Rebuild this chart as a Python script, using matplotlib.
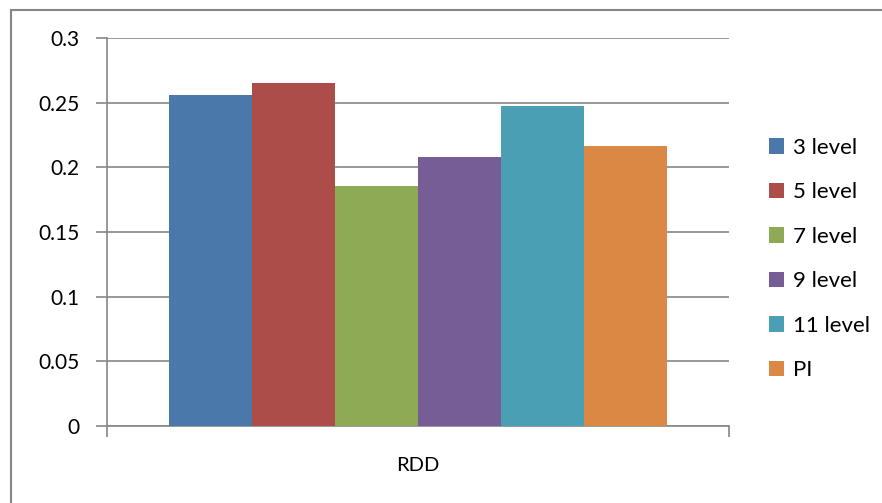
import matplotlib
matplotlib.use('Agg')
import matplotlib.pyplot as plt
from matplotlib.patches import Rectangle
from matplotlib.ticker import FuncFormatter

plt.rcParams['font.family'] = ['Lato', 'DejaVu Sans']

category = 'RDD'
series = ['3 level', '5 level', '7 level', '9 level', '11 level', 'PI']
values = [0.256, 0.265, 0.1855, 0.208, 0.2475, 0.2165]
colors = ['#4a78ab', '#ad4d4a', '#8eaa55', '#775d95', '#4a9fb4', '#dc8845']
yticks = [0, 0.05, 0.1, 0.15, 0.2, 0.25, 0.3]

grey = '#868686'

fig = plt.figure(figsize=(8.82, 5.03), dpi=100)
# outer chart frame
fig.patches.append(Rectangle((11/882, -0.1), 1.2, (503-10)/503 + 0.1,
                             transform=fig.transFigure, fill=False,
                             edgecolor=grey, linewidth=1.5))

ax = fig.add_axes([107/882, 77/503, 622/882, 388/503])

n = len(series)
width = 1 / (n + 1.5)
for i, (name, v, c) in enumerate(zip(series, values, colors)):
    x = -0.5 + 0.75 * width + (i + 0.5) * width
    ax.bar(x, v, width=width, color=c, label=name, zorder=3)

ax.set_xlim(-0.5, 0.5)
ax.set_ylim(0, 0.3)
ax.set_yticks(yticks)
ax.yaxis.set_major_formatter(FuncFormatter(lambda v, p: '%g' % v))
ax.grid(axis='y', color=grey, linewidth=1.2, zorder=0)
ax.set_axisbelow(True)

ax.set_xticks([-0.5, 0.5])
ax.set_xticklabels(['', ''])
ax.set_xticks([0], minor=True)
ax.set_xticklabels([category], minor=True)
ax.tick_params(axis='x', which='major', length=8, width=1.2, color=grey, direction='out')
ax.tick_params(axis='x', which='minor', length=0, pad=22, labelsize=14.5)
ax.tick_params(axis='y', length=8, width=1.2, color=grey, direction='out', pad=12, labelsize=15)

for s in ['top', 'right']:
    ax.spines[s].set_visible(False)
for s in ['left', 'bottom']:
    ax.spines[s].set_color(grey)
    ax.spines[s].set_linewidth(1.2)

ax.legend(loc='upper left', bbox_to_anchor=(760/882, 1 - 129/503), bbox_transform=fig.transFigure,
          frameon=False, fontsize=16, handlelength=0.7, handleheight=0.7,
          handletextpad=0.4, labelspacing=1.1, borderaxespad=0)

fig.savefig('out.png', dpi=100)
